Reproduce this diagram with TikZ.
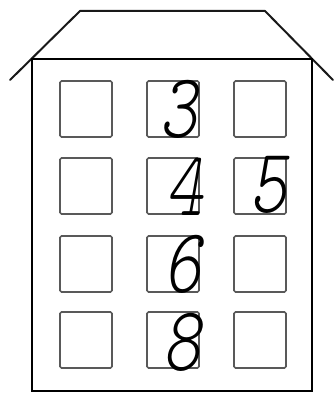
\documentclass[tikz,border=0pt]{standalone}
\usepackage{fontspec}
\newfontfamily\digfont{lmmonolt10-regular.otf}[FakeSlant=0.22]
\begin{document}
\begin{tikzpicture}[x=1pt,y=-1pt,
  wall/.style={draw=black,line width=2pt,line join=miter},
  roofline/.style={draw=black!90,line width=2pt,line cap=round,line join=round},
  win/.style={draw=black!65,line width=1.6pt,rounded corners=1.5pt},
  digit/.style={inner sep=0pt,font=\digfont\fontsize{92}{92}\selectfont,xscale=0.78}]
\useasboundingbox (0,0) rectangle (336,393);
% roof
\coordinate (eaveL) at (10,80);
\coordinate (topL) at (80,11);
\coordinate (topR) at (265,11);
\coordinate (eaveR) at (333,80);
\draw[roofline] (eaveL) -- (topL) -- (topR) -- (eaveR);
% building
\draw[wall] (32,59) rectangle (312,391);
% windows
\foreach \r/\y in {1/81,2/158,3/236,4/312}{
  \foreach \c/\x in {1/60,2/147,3/234}{
    \draw[win] (\x,\y) rectangle ++(52,56);
  }
}
% digits
\node[digit] (d3) at (178,109) {3};
\node[digit] (d4) at (184,187) {4};
\node[digit] (d5) at (268,185) {5};
\node[digit] (d6) at (182,264) {6};
\node[digit] (d8) at (181,342) {8};
\end{tikzpicture}
\end{document}
